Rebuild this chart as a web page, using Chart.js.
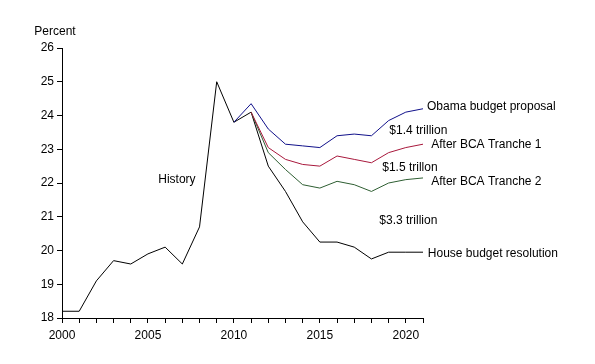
<!DOCTYPE html>
<html>
<head>
<meta charset="utf-8">
<script src="https://cdn.jsdelivr.net/npm/chart.js@4.4.1/dist/chart.umd.min.js"></script>
<style>
  html, body { margin: 0; padding: 0; background: #fff; }
  #wrap { width: 595px; height: 364px; }
</style>
</head>
<body>
<div id="wrap"><canvas id="myChart" width="595" height="364"></canvas></div>
<script>
// years on the x axis
const historyYears = [2000, 2001, 2002, 2003, 2004, 2005, 2006, 2007, 2008, 2009, 2010, 2011];
const historyValues = [18.2, 18.2, 19.1, 19.7, 19.6, 19.9, 20.1, 19.6, 20.7, 25.0, 23.8, 24.1];

const obamaYears = [2010, 2011, 2012, 2013, 2014, 2015, 2016, 2017, 2018, 2019, 2020, 2021];
const obamaValues = [23.8, 24.35, 23.6, 23.15, 23.1, 23.05, 23.4, 23.45, 23.4, 23.85, 24.1, 24.2];

const projYears = [2011, 2012, 2013, 2014, 2015, 2016, 2017, 2018, 2019, 2020, 2021];
const tranche1Values = [24.1, 23.05, 22.7, 22.55, 22.5, 22.8, 22.7, 22.6, 22.9, 23.05, 23.15];
const tranche2Values = [24.1, 22.9, 22.4, 21.95, 21.85, 22.05, 21.95, 21.75, 22.0, 22.1, 22.15];
const houseValues = [24.1, 22.5, 21.75, 20.85, 20.25, 20.25, 20.1, 19.75, 19.95, 19.95, 19.95];

const yTicks = [18, 19, 20, 21, 22, 23, 24, 25, 26];

const FONT = '"Liberation Sans", Arial, sans-serif';

function pts(xs, ys) {
    return xs.map((x, i) => ({x: x, y: ys[i]}));
}

// text notes, anchored in data units (left edge, middle)
const notes = [
    ['History', 2005.6, 22.1],
    ['Obama budget proposal', 2021.23, 24.27],
    ['$1.4 trillion', 2019.04, 23.54],
    ['After BCA Tranche 1', 2021.48, 23.13],
    ['$1.5 trillon', 2018.63, 22.45],
    ['After BCA Tranche 2', 2021.48, 22.04],
    ['$3.3 trillion', 2018.46, 20.89],
    ['House budget resolution', 2021.28, 19.92],
];

const notesPlugin = {
    id: 'notes',
    afterDraw(chart) {
        const ctx = chart.ctx;
        const xs = chart.scales.x, ys = chart.scales.y;
        ctx.save();
        ctx.font = '12px ' + FONT;
        ctx.fillStyle = '#000';
        ctx.textBaseline = 'middle';
        ctx.textAlign = 'left';
        notes.forEach(n => {
            ctx.fillText(n[0], xs.getPixelForValue(n[1]), ys.getPixelForValue(n[2]));
        });
        // axis unit above the y axis
        ctx.textAlign = 'center';
        ctx.fillText('Percent', 55, 32);
        ctx.restore();
    }
};

const line = (data, color) => ({
    data: data,
    borderColor: color,
    borderWidth: 1,
    pointRadius: 0,
    tension: 0,
    fill: false,
});

const ctx = document.getElementById('myChart').getContext('2d');
const myChart = new Chart(ctx, {
    type: 'line',
    data: {
        datasets: [
            line(pts(obamaYears, obamaValues), '#10108a'),
            line(pts(projYears, tranche1Values), '#a8183c'),
            line(pts(projYears, tranche2Values), '#2e5e32'),
            line(pts(projYears, houseValues), '#000000'),
            line(pts(historyYears, historyValues), '#000000'),
        ]
    },
    options: {
        responsive: false,
        animation: false,
        layout: { padding: { left: 0, top: 48, right: 172, bottom: 0 } },
        plugins: {
            legend: { display: false },
            tooltip: { enabled: false },
        },
        scales: {
            x: {
                type: 'linear',
                min: 2000,
                max: 2021,
                afterFit(scale) { scale.height = 46; },
                border: { display: true, color: '#000', width: 1 },
                grid: { drawOnChartArea: false, drawTicks: true, tickLength: 5, color: '#000' },
                ticks: {
                    stepSize: 1,
                    padding: 5,
                    color: '#000',
                    font: { family: FONT, size: 12 },
                    maxRotation: 0,
                    autoSkip: false,
                    callback: v => (v % 5 === 0 ? String(v) : ''),
                },
            },
            y: {
                min: 18,
                max: 26,
                afterFit(scale) { scale.width = 62; },
                afterBuildTicks(scale) { scale.ticks = yTicks.map(v => ({value: v})); },
                border: { display: true, color: '#000', width: 1 },
                grid: { drawOnChartArea: false, drawTicks: true, tickLength: 5, color: '#000' },
                ticks: {
                    padding: 3,
                    color: '#000',
                    font: { family: FONT, size: 12 },
                },
            },
        },
    },
    plugins: [notesPlugin],
});
</script>
</body>
</html>
